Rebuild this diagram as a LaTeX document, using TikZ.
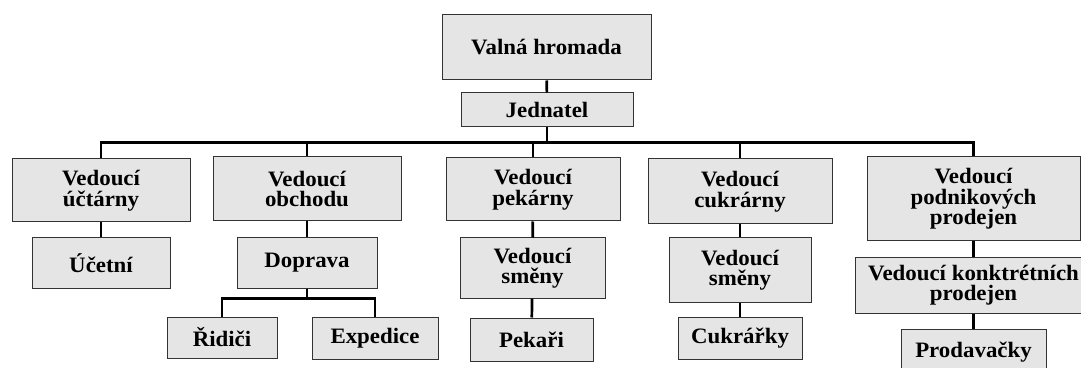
\documentclass[tikz,border=0pt]{standalone}
\usepackage{fontspec}
\setmainfont{Liberation Serif}[FakeStretch=1.04]

\begin{document}
\begin{tikzpicture}[x=1pt,y=1pt,line width=2.7pt,
                    org/.style={to path={(\tikztostart.south) -- ++(0,-#1) -| (\tikztotarget.north)}},
                    org/.default=15,
                    main node/.style={rectangle,draw=black!80,fill=gray!20,line width=1pt,
                      align=center,inner sep=0pt,font=\fontsize{22}{20.5}\selectfont\bfseries}]
  \useasboundingbox (0,0) rectangle (1081,367);

  \node[main node,minimum width=209,minimum height=65] (valna) at (546.5,319.5) {Valná hromada};
  \node[main node,minimum width=172,minimum height=34] (jed) at (547,257) {Jednatel};

  \node[main node,minimum width=178,minimum height=63] (uct) at (101,176.5) {Vedoucí\\účtárny};
  \node[main node,minimum width=188,minimum height=64] (obch) at (307,178) {Vedoucí\\obchodu};
  \node[main node,minimum width=174,minimum height=63] (pek) at (533,177.5) {Vedoucí\\pekárny};
  \node[main node,minimum width=184,minimum height=65] (cukr) at (740,175.5) {Vedoucí\\cukrárny};
  \node[main node,minimum width=213,minimum height=84] (prod) at (973.5,168) {Vedoucí\\podnikových\\prodejen};

  \node[main node,minimum width=138,minimum height=50] (ucetni) at (101,104) {Účetní};
  \node[main node,minimum width=140,minimum height=50] (doprava) at (307,104) {Doprava};
  \node[main node,minimum width=145,minimum height=60] (smena1) at (532.5,99) {Vedoucí\\směny};
  \node[main node,minimum width=142,minimum height=64] (smena2) at (740,97) {Vedoucí\\směny};
  \node[main node,minimum width=236,minimum height=56] (konkr) at (973.5,82) {Vedoucí konktrétních\\prodejen};

  \node[main node,minimum width=110,minimum height=41] (ridici) at (222,29.5) {Řidiči};
  \node[main node,minimum width=126,minimum height=42] (exped) at (375,29) {Expedice};
  \node[main node,minimum width=123,minimum height=43] (pekari) at (531.5,27.5) {Pekaři};
  \node[main node,minimum width=124,minimum height=42] (cukrarky) at (740,29) {Cukrářky};
  \node[main node,minimum width=145,minimum height=46] (prodav) at (973.5,15) {Prodavačky};

  \path
    (valna) edge (jed)
    (jed) edge[org] (uct)
    (jed) edge[org] (obch)
    (jed) edge[org] (pek)
    (jed) edge[org] (cukr)
    (jed) edge[org] (prod)
    (uct) edge (ucetni)
    (obch) edge (doprava)
    (pek) edge (smena1)
    (cukr) edge (smena2)
    (prod) edge (konkr)
    (doprava) edge[org=10] (ridici)
    (doprava) edge[org=10] (exped)
    (smena1) edge (pekari)
    (smena2) edge (cukrarky)
    (konkr) edge (prodav);
\end{tikzpicture}
\end{document}
